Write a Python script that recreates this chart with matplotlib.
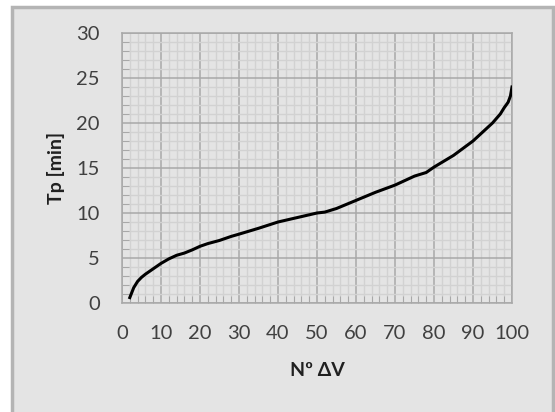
import numpy as np
import matplotlib.pyplot as plt
from matplotlib.patches import Rectangle
from matplotlib.ticker import MultipleLocator

# curve
n_dv = [2, 3, 4, 5, 6, 7, 8, 10, 12, 14, 16, 18, 20, 22, 25, 28, 30, 35, 40,
        45, 50, 52, 55, 60, 65, 70, 75, 78, 80, 85, 90, 93, 95, 97, 98, 99,
        99.6, 100]
tp_min = [0.6, 1.7, 2.4, 2.85, 3.2, 3.5, 3.8, 4.4, 4.9, 5.3, 5.55, 5.9, 6.3,
          6.6, 6.95, 7.4, 7.65, 8.3, 9.0, 9.5, 10.0, 10.1, 10.5, 11.4, 12.3,
          13.1, 14.1, 14.5, 15.1, 16.4, 18.0, 19.2, 20.0, 21.0, 21.7, 22.3,
          23.0, 24.0]

bg = '#e4e4e4'
plt.rcParams['font.family'] = ['Lato', 'DejaVu Sans']

fig = plt.figure(figsize=(5.55, 4.12), dpi=100)
fig.patch.set_facecolor('white')
# chart frame
frame = Rectangle((12 / 555, -0.05), 541 / 555, 1.05 - 6.5 / 412,
                  transform=fig.transFigure, facecolor=bg,
                  edgecolor='#b4b4b4', linewidth=2.5, zorder=-10)
fig.add_artist(frame)

ax = fig.add_axes([122 / 555, 109 / 412, 390 / 555, 270 / 412])
ax.set_facecolor(bg)
ax.plot(n_dv, tp_min, color='black', linewidth=2.2, zorder=5)

ax.set_xlim(0, 100)
ax.set_ylim(0, 30)
ax.xaxis.set_major_locator(MultipleLocator(10))
ax.xaxis.set_minor_locator(MultipleLocator(2))
ax.yaxis.set_major_locator(MultipleLocator(5))
ax.yaxis.set_minor_locator(MultipleLocator(1))

ax.grid(which='minor', color='#d2d2d2', linewidth=1.0)
ax.grid(which='major', color='#a8a8a8', linewidth=1.1)
ax.set_axisbelow(True)

ax.tick_params(which='major', length=0, labelsize=14.5, colors='#404040', pad=16)
ax.tick_params(axis='y', which='major', pad=16)
ax.tick_params(which='minor', direction='in', length=5, color='#a0a0a0')
for s in ax.spines.values():
    s.set_color('#a8a8a8')
    s.set_linewidth(1.1)

ax.set_ylabel('Tp [min]', fontsize=14, fontweight='bold', color='#202020', labelpad=8)
ax.set_xlabel('Nº ΔV', fontsize=14, fontweight='bold', color='#202020', labelpad=14)

fig.savefig('out.png', dpi=100, facecolor=fig.get_facecolor())
